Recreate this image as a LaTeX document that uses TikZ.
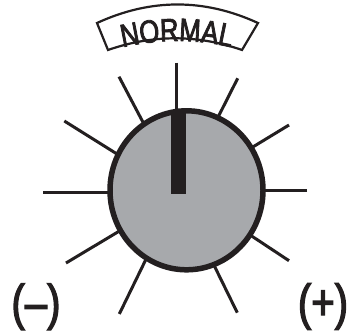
\documentclass[tikz,border=0pt]{standalone}
\usepackage{fontspec}
\newfontfamily\knobfont[FakeStretch=0.8,FakeBold=2.5]{Liberation Sans}
\usetikzlibrary{calc}
\definecolor{ink}{HTML}{231F20}
\definecolor{knobgray}{HTML}{A7A9AC}
\tikzset{
  ray/.style={draw=ink, line width=3pt},
  knob/.style={draw=ink, fill=knobgray, line width=5.5pt},
  pointer/.style={fill=ink},
  labelbox/.style={draw=ink, fill=white, line width=2.2pt, line join=miter},
  letter/.style={inner sep=0pt, anchor=base, text=ink, font=\knobfont\fontsize{32}{32}\selectfont},
  signlabel/.style={inner sep=0pt, text=ink, font=\knobfont\fontsize{50}{50}\selectfont}
}
\begin{document}
\begin{tikzpicture}[x=1pt,y=1pt]
\useasboundingbox (0,0) rectangle (347,333);
% ray end points (outer / inner)
\coordinate (o1) at (176,270.5);   \coordinate (i1) at (176,220);
\coordinate (o2) at (237.7,254.7); \coordinate (i2) at (220,219.7);
\coordinate (o3) at (289,208);     \coordinate (i3) at (253.3,186.3);
\coordinate (o4) at (307,142.3);   \coordinate (i4) at (264,142.3);
\coordinate (o5) at (289,72.3);    \coordinate (i5) at (252.7,96.3);
\coordinate (o6) at (237.3,20.3);  \coordinate (i6) at (216,63.7);
\coordinate (o7) at (119.3,19);    \coordinate (i7) at (144.3,70.3);
\coordinate (o8) at (66,70);       \coordinate (i8) at (118.3,101.3);
\coordinate (o9) at (43,140.5);    \coordinate (i9) at (109,140.5);
\coordinate (o10) at (64.3,212);   \coordinate (i10) at (114.3,180.7);
\coordinate (o11) at (119,256.3);  \coordinate (i11) at (142.7,211.3);
\foreach \k in {1,...,11}{
  \draw[ray] (o\k) -- ($(i\k)!-8pt!(o\k)$);
}
% knob
\coordinate (kc) at (186.5,142.7);
\draw[knob] (kc) ellipse [x radius=76.5pt, y radius=79.5pt];
\fill[pointer] (170.7,139.5) rectangle (186,223.5);
% label box
\draw[labelbox] (97,310) .. controls (150.7,334.7) and (204.3,334.7) .. (258,310)
  -- (242,283) .. controls (197.3,298.6) and (152.7,298.6) .. (108,283) -- cycle;
% arched label text
\node[letter, rotate=11.0]   (l1) at (131.8,287.6) {N};
\node[letter, rotate=6.42]   (l2) at (150.5,290.5) {O};
\node[letter, rotate=1.78]   (l3) at (169.6,291.9) {R};
\node[letter, rotate=-3.03]  (l4) at (189.5,291.7) {M};
\node[letter, rotate=-7.68]  (l5) at (208.7,289.9) {A};
\node[letter, rotate=-11.46] (l6) at (224.1,287.3) {L};
% signs
\node[signlabel] (minus) at (36,26.3) {(–)};
\node[signlabel] (plus) at (323,26.5) {(+)};
\end{tikzpicture}
\end{document}
